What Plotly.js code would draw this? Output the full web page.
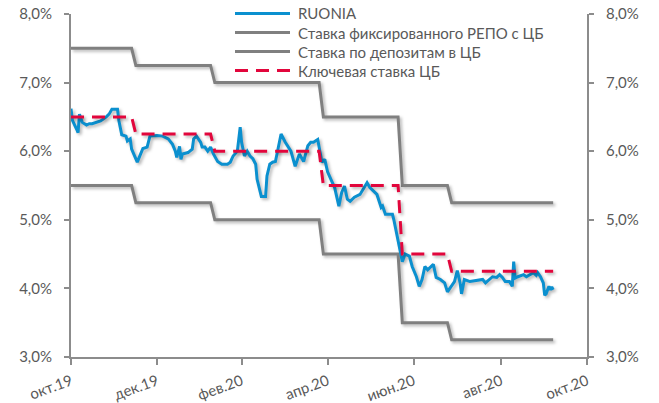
<!DOCTYPE html>
<html>
<head>
<meta charset="utf-8">
<script src="https://cdn.plot.ly/plotly-3.0.1.min.js"></script>
<style>
  html, body { margin: 0; padding: 0; background: #fff; }
  #chart { width: 659px; height: 403px; }
  .scatterlayer .trace path.js-line { filter: drop-shadow(2px 2px 1.5px rgba(0,0,0,0.28)); }
</style>
</head>
<body>
<div id="chart"></div>
<script>
// ---- data ----
const ruoniaDates = [
  '2019-10-31','2019-11-01','2019-11-04','2019-11-05','2019-11-06','2019-11-08','2019-11-11','2019-11-13','2019-11-15','2019-11-21',
  '2019-11-25','2019-11-27','2019-11-29','2019-12-03','2019-12-04','2019-12-06','2019-12-09','2019-12-10','2019-12-12','2019-12-13',
  '2019-12-17','2019-12-19','2019-12-21','2019-12-24','2019-12-26','2019-12-31','2020-01-04','2020-01-08','2020-01-11','2020-01-13',
  '2020-01-14','2020-01-16','2020-01-17','2020-01-18','2020-01-22','2020-01-25','2020-01-26','2020-01-28','2020-01-31','2020-02-01',
  '2020-02-03','2020-02-05','2020-02-07','2020-02-09','2020-02-12','2020-02-15','2020-02-19','2020-02-21','2020-02-23','2020-02-26',
  '2020-02-28','2020-02-29','2020-03-02','2020-03-04','2020-03-06','2020-03-08','2020-03-10','2020-03-11','2020-03-12','2020-03-14',
  '2020-03-17','2020-03-18','2020-03-20','2020-03-22','2020-03-24','2020-03-26','2020-03-28','2020-03-31','2020-04-04','2020-04-07',
  '2020-04-10','2020-04-13','2020-04-16','2020-04-18','2020-04-20','2020-04-23','2020-04-25','2020-04-26','2020-04-28','2020-04-30',
  '2020-05-03','2020-05-05','2020-05-08','2020-05-10','2020-05-12','2020-05-14','2020-05-16','2020-05-19','2020-05-23','2020-05-28',
  '2020-05-30','2020-06-01','2020-06-04','2020-06-07','2020-06-08','2020-06-10','2020-06-15','2020-06-16','2020-06-18','2020-06-20',
  '2020-06-22','2020-06-24','2020-06-27','2020-06-29','2020-07-02','2020-07-04','2020-07-06','2020-07-08','2020-07-10','2020-07-14',
  '2020-07-16','2020-07-19','2020-07-22','2020-07-24','2020-07-27','2020-07-29','2020-07-31','2020-08-02','2020-08-03','2020-08-05',
  '2020-08-09','2020-08-14','2020-08-18','2020-08-20','2020-08-23','2020-08-25','2020-08-28','2020-08-30','2020-09-01','2020-09-03',
  '2020-09-06','2020-09-08','2020-09-09','2020-09-10','2020-09-12','2020-09-16','2020-09-18','2020-09-21','2020-09-23','2020-09-25',
  '2020-09-26','2020-09-28','2020-09-30','2020-10-01','2020-10-02','2020-10-04','2020-10-05','2020-10-06','2020-10-07'
];
const ruoniaValues = [
  6.62,6.45,6.32,6.27,6.54,6.42,6.38,6.40,6.40,6.44,
  6.50,6.54,6.61,6.61,6.44,6.24,6.22,6.15,6.18,6.03,
  5.84,5.93,6.04,6.06,6.22,6.23,6.22,6.18,6.10,6.00,
  5.91,6.07,5.88,5.96,5.98,6.03,6.18,6.22,6.13,6.06,
  6.06,6.00,6.06,5.96,5.85,5.81,5.81,5.84,5.93,6.00,
  6.35,6.13,5.93,6.00,5.93,5.89,5.81,5.59,5.49,5.34,
  5.34,5.64,5.81,5.84,5.85,6.08,6.25,6.13,6.00,5.78,
  5.96,5.85,6.08,6.13,6.13,6.17,5.93,5.84,5.88,5.70,
  5.56,5.47,5.20,5.40,5.49,5.30,5.27,5.33,5.37,5.54,
  5.47,5.43,5.37,5.18,5.20,5.08,5.08,5.00,4.80,4.60,
  4.39,4.50,4.47,4.32,4.17,4.03,4.13,4.32,4.27,4.35,
  4.16,4.13,4.08,3.95,4.03,4.10,4.26,4.08,3.92,4.13,
  4.10,4.12,4.13,4.08,4.14,4.17,4.16,4.20,4.16,4.10,
  4.10,4.03,4.39,4.15,4.17,4.20,4.17,4.20,4.23,4.19,
  4.23,4.17,4.08,3.90,3.92,4.03,3.98,4.02,3.98
];

const policyDates = ['2019-10-31','2019-12-13','2019-12-16','2020-02-07','2020-02-10','2020-04-24','2020-04-27','2020-06-19','2020-06-22','2020-07-24','2020-07-27','2020-10-07'];
const keyRate  = [6.5, 6.5, 6.25, 6.25, 6.0, 6.0, 5.5, 5.5, 4.5, 4.5, 4.25, 4.25];
const repoRate = [7.5, 7.5, 7.25, 7.25, 7.0, 7.0, 6.5, 6.5, 5.5, 5.5, 5.25, 5.25];
const depoRate = [5.5, 5.5, 5.25, 5.25, 5.0, 5.0, 4.5, 4.5, 3.5, 3.5, 3.25, 3.25];

const seriesNames = ['RUONIA', 'Ставка фиксированного РЕПО с ЦБ', 'Ставка по депозитам в ЦБ', 'Ключевая ставка ЦБ'];
const xTickDates  = ['2019-10-31','2019-12-31','2020-02-29','2020-04-30','2020-06-30','2020-08-31','2020-10-31'];
const xTickLabels = ['окт.19','дек.19','фев.20','апр.20','июн.20','авг.20','окт.20'];
const yTicks      = [3, 4, 5, 6, 7, 8];
const yTickLabels = ['3,0%','4,0%','5,0%','6,0%','7,0%','8,0%'];

// ---- styling ----
const FONT = 'Lato, "Open Sans", "DejaVu Sans", sans-serif';
const GRAY_TXT = '#595959';
const AXIS = '#8c8c8c';
const BLUE = '#0B90CF', GRAY = '#808080', RED = '#E2063C';
const KEY_DASH = '13px,8px';

const traces = [
  { x: policyDates, y: repoRate, name: seriesNames[1], type: 'scatter', mode: 'lines',
    line: { color: GRAY, width: 3 } },
  { x: policyDates, y: depoRate, name: seriesNames[2], type: 'scatter', mode: 'lines',
    line: { color: GRAY, width: 3 } },
  { x: ruoniaDates, y: ruoniaValues, name: seriesNames[0], type: 'scatter', mode: 'lines',
    line: { color: BLUE, width: 3 } },
  { x: policyDates, y: keyRate, name: seriesNames[3], type: 'scatter', mode: 'lines',
    line: { color: RED, width: 3, dash: KEY_DASH } },
  { x: [policyDates[0]], y: [keyRate[0]], yaxis: 'y2', type: 'scatter', mode: 'lines',
    showlegend: false, hoverinfo: 'skip', line: { width: 0 } }
];

// ---- legend (drawn as layout shapes + annotations) ----
const PLOT_L = 71, PLOT_W = 516, PLOT_B = 357, PLOT_H = 342.5;
const px2x = p => (p - PLOT_L) / PLOT_W;
const px2y = p => (PLOT_B - p) / PLOT_H;
const legendStyles = [
  { color: BLUE, dash: 'solid' },
  { color: GRAY, dash: 'solid' },
  { color: GRAY, dash: 'solid' },
  { color: RED, dash: KEY_DASH }
];
const shapes = [], annotations = [];
seriesNames.forEach((name, i) => {
  const yy = px2y(14 + 19 * i);
  shapes.push({ type: 'line', xref: 'paper', yref: 'paper', x0: px2x(235), x1: px2x(290), y0: yy, y1: yy,
    line: { color: legendStyles[i].color, width: 3, dash: legendStyles[i].dash } });
  annotations.push({ xref: 'paper', yref: 'paper', x: px2x(296), y: yy, xanchor: 'left', yanchor: 'middle',
    text: name, showarrow: false, font: { family: FONT, size: 15, color: GRAY_TXT } });
});

const yCommon = {
  range: [3, 8], tickvals: yTicks, ticktext: yTickLabels,
  showgrid: false, zeroline: false, showline: true, linecolor: AXIS, linewidth: 2,
  ticks: 'outside', ticklen: 5, tickwidth: 2, tickcolor: AXIS, ticklabelstandoff: 9,
  tickfont: { family: FONT, size: 15, color: GRAY_TXT }
};

const layout = {
  width: 659, height: 403,
  margin: { l: 71, r: 72, t: 14, b: 46, autoexpand: false },
  paper_bgcolor: '#ffffff', plot_bgcolor: '#ffffff',
  showlegend: false,
  shapes: shapes,
  annotations: annotations,
  xaxis: {
    type: 'date', range: ['2019-10-31', '2020-10-31'],
    tickvals: xTickDates, ticktext: xTickLabels, tickangle: -20,
    showgrid: false, zeroline: false, showline: true, linecolor: AXIS, linewidth: 2,
    ticks: 'outside', ticklen: 6, tickwidth: 2, tickcolor: AXIS, ticklabelstandoff: 2,
    tickfont: { family: FONT, size: 15, color: GRAY_TXT }
  },
  yaxis: Object.assign({}, yCommon, { side: 'left' }),
  yaxis2: Object.assign({}, yCommon, { side: 'right', overlaying: 'y' })
};

Plotly.newPlot('chart', traces, layout, { displayModeBar: false, staticPlot: true });
</script>
</body>
</html>
